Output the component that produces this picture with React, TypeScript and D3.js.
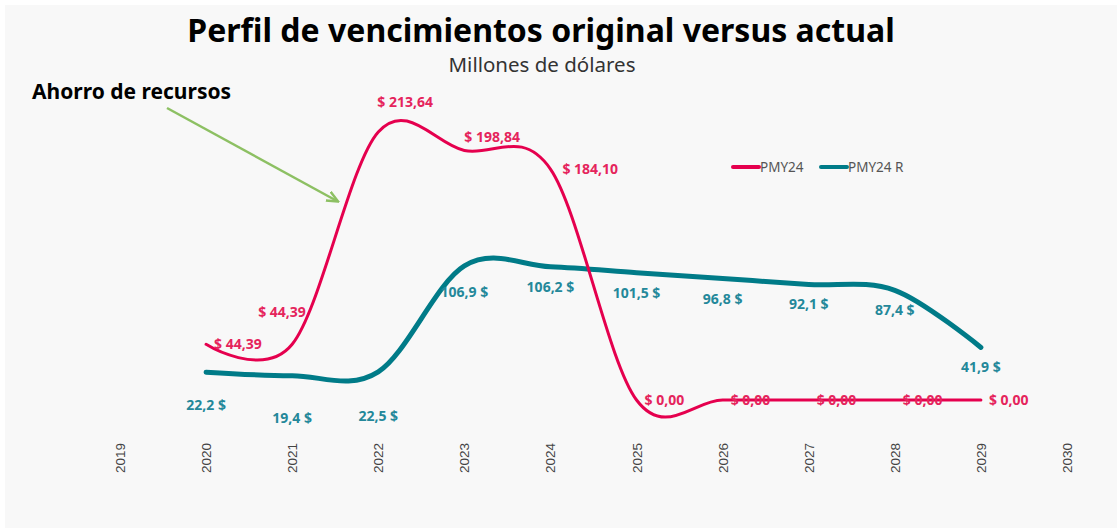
import React, { useEffect, useRef } from 'react';
import * as d3 from 'd3';

// values (millones de dólares)
const years = [2020, 2021, 2022, 2023, 2024, 2025, 2026, 2027, 2028, 2029];
const axisYears = [2019, 2020, 2021, 2022, 2023, 2024, 2025, 2026, 2027, 2028, 2029, 2030];
const pmy24 = [44.39, 44.39, 213.64, 198.84, 184.1, 0, 0, 0, 0, 0];
const pmy24r = [22.2, 19.4, 22.5, 106.9, 106.2, 101.5, 96.8, 92.1, 87.4, 41.9];
const seriesNames = ['PMY24', 'PMY24 R'];

const W = 1117;
const H = 528;
const RED = '#e5004e';
const TEAL = '#007b88';
const FONT = '"Noto Sans", sans-serif';

// small nudges the original applied to a few labels so they clear the line
const redNudge: Record<number, [number, number]> = {
  2021: [-42, -32],
  2022: [-9, -30],
  2023: [-8, -14],
  2024: [4, 0],
};
const tealNudge: Record<number, number> = { 2020: 13, 2021: 22, 2022: 24, 2023: 6 };

const fmtRed = (v: number) => '$ ' + v.toFixed(2).replace('.', ',');
const fmtTeal = (v: number) => v.toFixed(1).replace('.', ',') + ' $';

export default function App() {
  const ref = useRef<SVGSVGElement>(null);

  useEffect(() => {
    const svg = d3.select(ref.current);
    svg.selectAll('*').remove();

    svg.append('rect').attr('x', 5).attr('y', 5).attr('width', W - 5).attr('height', H - 5).attr('fill', '#f8f8f8');

    const x = d3.scalePoint<number>().domain(axisYears).range([120, 1067]);
    const y = d3.scaleLinear().domain([0, 220]).range([400, 124]);

    // title
    svg.append('text')
      .attr('x', 541).attr('y', 42)
      .attr('text-anchor', 'middle')
      .attr('font-family', FONT)
      .attr('font-weight', 700)
      .attr('font-size', 32)
      .attr('fill', '#000')
      .text('Perfil de vencimientos original versus actual');
    svg.append('text')
      .attr('x', 542).attr('y', 72)
      .attr('text-anchor', 'middle')
      .attr('font-family', FONT)
      .attr('font-size', 20.5)
      .attr('fill', '#333')
      .text('Millones de dólares');

    // annotation
    svg.append('text')
      .attr('x', 32).attr('y', 99)
      .attr('font-family', FONT)
      .attr('font-weight', 700)
      .attr('font-size', 21)
      .attr('fill', '#000')
      .text('Ahorro de recursos');

    svg.append('defs').append('marker')
      .attr('id', 'arrow')
      .attr('viewBox', '0 0 10 10')
      .attr('refX', 8).attr('refY', 5)
      .attr('markerWidth', 5).attr('markerHeight', 5)
      .attr('orient', 'auto')
      .append('path')
      .attr('d', 'M0,1 L9,5 L0,9')
      .attr('fill', 'none')
      .attr('stroke', '#8dc063')
      .attr('stroke-width', 2);
    svg.append('line')
      .attr('x1', 167).attr('y1', 108)
      .attr('x2', 337).attr('y2', 201)
      .attr('stroke', '#8dc063')
      .attr('stroke-width', 2.5)
      .attr('marker-end', 'url(#arrow)');

    // x axis labels (rotated)
    svg.append('g')
      .selectAll('text')
      .data(axisYears)
      .enter()
      .append('text')
      .attr('transform', (d) => `translate(${x(d)! + 5},443) rotate(-90)`)
      .attr('text-anchor', 'end')
      .attr('font-family', '"Liberation Sans", Arial, sans-serif')
      .attr('font-size', 13.5)
      .attr('fill', '#444')
      .text((d) => String(d));

    const line = d3.line<number>()
      .x((_, i) => x(years[i])!)
      .y((d) => y(d))
      .curve(d3.curveCatmullRom.alpha(0));

    svg.append('path')
      .attr('d', line(pmy24r)!)
      .attr('fill', 'none')
      .attr('stroke', TEAL)
      .attr('stroke-width', 5)
      .attr('stroke-linecap', 'round');

    svg.append('path')
      .attr('d', line(pmy24)!)
      .attr('fill', 'none')
      .attr('stroke', RED)
      .attr('stroke-width', 3)
      .attr('stroke-linecap', 'round');

    // data labels
    svg.append('g')
      .selectAll('text')
      .data(pmy24r)
      .enter()
      .append('text')
      .attr('x', (_, i) => x(years[i])!)
      .attr('y', (d, i) => y(d) + 25 + (tealNudge[years[i]] || 0))
      .attr('text-anchor', 'middle')
      .attr('font-family', FONT)
      .attr('font-weight', 700)
      .attr('font-size', 14)
      .attr('fill', '#24889a')
      .text((d) => fmtTeal(d));

    svg.append('g')
      .selectAll('text')
      .data(pmy24)
      .enter()
      .append('text')
      .attr('x', (_, i) => x(years[i])! + 8 + (redNudge[years[i]]?.[0] || 0))
      .attr('y', (d, i) => y(d) + 5 + (redNudge[years[i]]?.[1] || 0))
      .attr('font-family', FONT)
      .attr('font-weight', 700)
      .attr('font-size', 14)
      .attr('fill', '#e5245c')
      .text((d) => fmtRed(d));

    // legend
    const legend = svg.append('g').attr('transform', 'translate(732,167)');
    const colors = [RED, TEAL];
    const offsets = [0, 88];
    seriesNames.forEach((name, i) => {
      legend.append('line')
        .attr('x1', offsets[i] + 1).attr('x2', offsets[i] + 27)
        .attr('y1', 0).attr('y2', 0)
        .attr('stroke', colors[i])
        .attr('stroke-width', 4)
        .attr('stroke-linecap', 'round');
      legend.append('text')
        .attr('x', offsets[i] + 28).attr('y', 5)
        .attr('font-family', FONT)
        .attr('font-size', 13.5)
        .attr('fill', '#555')
        .text(name);
    });
  }, []);

  return (
    <svg
      ref={ref}
      width={W}
      height={H}
      style={{ position: 'absolute', left: 0, top: 0, background: '#fff' }}
    />
  );
}
